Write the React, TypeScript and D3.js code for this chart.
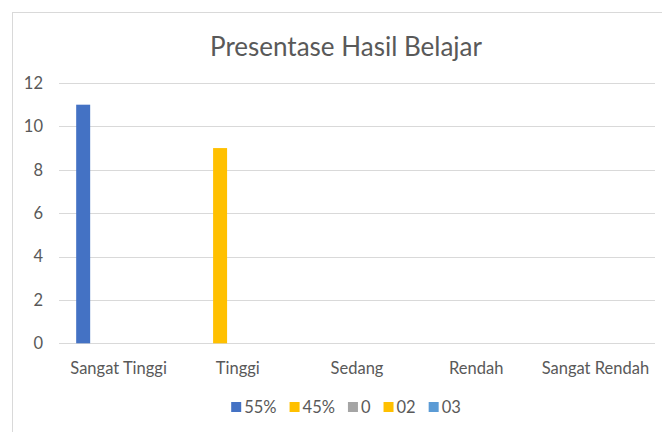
import React, { useEffect, useRef } from "react";
import * as d3 from "d3";

const categories = ["Sangat Tinggi", "Tinggi", "Sedang", "Rendah", "Sangat Rendah"];
const seriesNames = ["55%", "45%", "0", "02", "03"];
const series55 = [11, 0, 0, 0, 0];
const series45 = [0, 9, 0, 0, 0];
const series0 = [0, 0, 0, 0, 0];
const series02 = [0, 0, 0, 0, 0];
const series03 = [0, 0, 0, 0, 0];
const seriesColors = ["#4472C4", "#FFC000", "#A5A5A5", "#FFC000", "#5B9BD5"];
const yTicks = [0, 2, 4, 6, 8, 10, 12];
const title = "Presentase Hasil Belajar";

const W = 662;
const H = 432;
const FONT = "Lato, 'Open Sans', sans-serif";

export default function App() {
  const ref = useRef<SVGSVGElement>(null);
  useEffect(() => {
    const svg = d3.select(ref.current);
    svg.selectAll("*").remove();
    const allSeries = [series55, series45, series0, series02, series03];

    svg.append("rect").attr("x", 0).attr("y", 0).attr("width", W).attr("height", H).attr("fill", "#fff");
    svg.append("rect").attr("x", 12.5).attr("y", 12.5).attr("width", 660).attr("height", 440)
      .attr("fill", "none").attr("stroke", "#D9D9D9");

    const left = 59, right = 655, top = 83, bottom = 343.3;
    const x0 = d3.scaleBand<string>().domain(categories).range([left, right]).padding(0);
    const x1 = d3.scaleBand<string>().domain(seriesNames).range([0, x0.bandwidth()])
      .paddingInner(0.21).paddingOuter(0.97);
    const y = d3.scaleLinear().domain([0, 12]).range([bottom, top]);

    // gridlines
    svg.append("g").selectAll("line").data(yTicks).join("line")
      .attr("x1", left).attr("x2", right)
      .attr("y1", d => Math.round(y(d)) + 0.5).attr("y2", d => Math.round(y(d)) + 0.5)
      .attr("stroke", "#D9D9D9").attr("stroke-width", 1);

    // y labels
    svg.append("g").selectAll("text").data(yTicks).join("text")
      .attr("x", 43).attr("y", d => y(d)).attr("dy", "0.35em")
      .attr("text-anchor", "end").attr("font-family", FONT).attr("font-size", 16.5)
      .attr("fill", "#595959").text(d => d);

    // bars
    const g = svg.append("g");
    allSeries.forEach((vals, si) => {
      g.append("g").selectAll("rect").data(vals.map((v, ci) => ({ v, c: categories[ci] })).filter(d => d.v > 0))
        .join("rect")
        .attr("x", d => (x0(d.c) as number) + (x1(seriesNames[si]) as number))
        .attr("width", x1.bandwidth())
        .attr("y", d => y(d.v))
        .attr("height", d => y(0) - y(d.v))
        .attr("fill", seriesColors[si]);
    });

    // category labels
    svg.append("g").selectAll("text").data(categories).join("text")
      .attr("x", d => (x0(d) as number) + x0.bandwidth() / 2).attr("y", 368).attr("dy", "0.35em")
      .attr("text-anchor", "middle").attr("font-family", FONT).attr("font-size", 16.5)
      .attr("fill", "#595959").text(d => d);

    // title
    svg.append("text").attr("x", 346).attr("y", 47).attr("dy", "0.35em")
      .attr("text-anchor", "middle").attr("font-family", FONT).attr("font-size", 26)
      .attr("fill", "#595959").text(title);

    // legend
    const lg = svg.append("g");
    let cx = 0;
    const sq = 10, gapT = 3, gapItem = 13;
    seriesNames.forEach((name, i) => {
      const item = lg.append("g").attr("transform", `translate(${cx},0)`);
      item.append("rect").attr("x", 0).attr("y", -sq / 2).attr("width", sq).attr("height", sq)
        .attr("fill", seriesColors[i]);
      const t = item.append("text").attr("x", sq + gapT).attr("y", 0).attr("dy", "0.35em")
        .attr("font-family", FONT).attr("font-size", 16.5).attr("fill", "#595959").text(name);
      const tw = (t.node() as SVGTextElement).getComputedTextLength();
      cx += sq + gapT + tw + gapItem;
    });
    const total = cx - gapItem;
    lg.attr("transform", `translate(${346 - total / 2},407)`);
  }, []);

  return (
    <svg ref={ref} width={W} height={H}
      style={{ position: "fixed", left: 0, top: 0, display: "block" }} />
  );
}
